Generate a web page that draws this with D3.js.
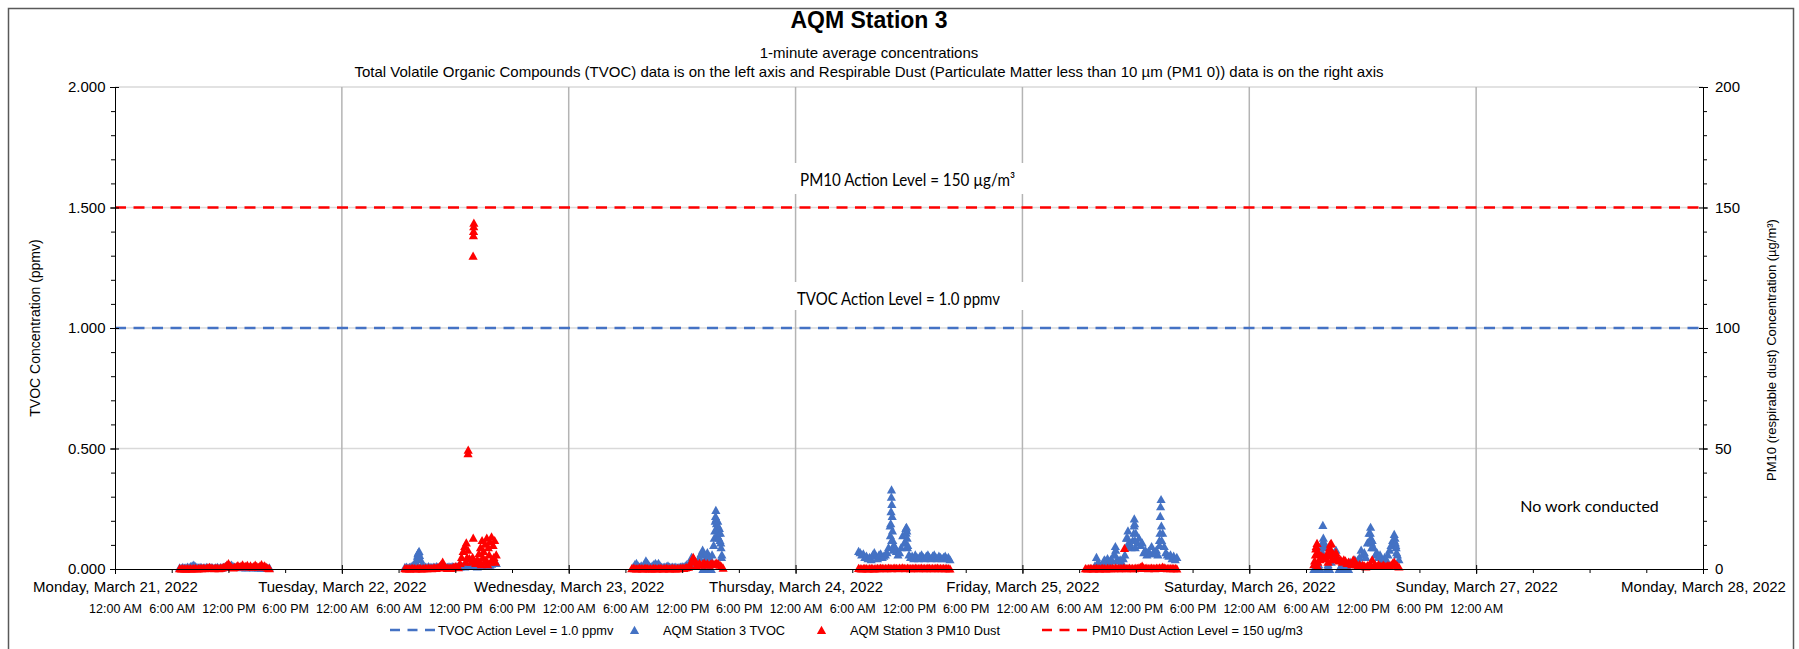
<!DOCTYPE html>
<html><head><meta charset="utf-8">
<script src="https://cdn.jsdelivr.net/npm/d3@7"></script>
<style>
body{margin:0;background:#fff;}
svg{display:block;}
</style></head><body>
<svg id="chart" width="1799" height="649"></svg>
<script>
// ---------------- DATA ----------------
const dayDates = ["2022-03-21","2022-03-22","2022-03-23","2022-03-24","2022-03-25","2022-03-26","2022-03-27","2022-03-28"];
const readingStepMin = 10;
const tvocActionLevel = 1.0;   // ppmv (left axis)
const pm10ActionLevel = 150;   // ug/m3 (right axis)
const leftTicks = [0, 0.5, 1.0, 1.5, 2.0];
const rightTicks = [0, 50, 100, 150, 200];

// TVOC (ppmv) readings, one every 10 minutes from the start time
const tvocStarts = ["2022-03-21 06:50","2022-03-22 06:40","2022-03-23 06:50","2022-03-24 06:40","2022-03-25 07:40","2022-03-26 06:50"];
const tvocMar21 = [0.006,0.004,0.008,0.005,0.006,0.010, 0.007,0.012,0.015,0.018,0.012,0.008, 0.006,0.009,0.007,0.005,0.006,0.008,
  0.006,0.005,0.007,0.006,0.004,0.006, 0.008,0.005,0.007,0.006,0.009,0.012, 0.010,0.008,0.014,0.018,0.012,0.010,
  0.008,0.011,0.009,0.007,0.010,0.008, 0.006,0.009,0.007,0.010,0.008,0.006, 0.009,0.007,0.006,0.008,0.005,0.007, 0.006,0.005,0.004,0.006];
const tvocMar22 = [0.008,0.010,0.006,0.009,0.012,0.015, 0.020,0.030,0.055,0.075,0.040,0.022, 0.012,0.010,0.008,0.012,0.009,0.007,
  0.010,0.008,0.012,0.010,0.008,0.011, 0.009,0.012,0.010,0.008,0.011,0.009, 0.012,0.010,0.008,0.011,0.013,0.010,
  0.012,0.015,0.010,0.014,0.012,0.016, 0.013,0.018,0.012,0.015,0.010,0.014, 0.016,0.012,0.018,0.014,0.020,0.016, 0.018,0.022,0.030,0.035,0.025];
const tvocMar23 = [0.010,0.020,0.025,0.015,0.010,0.015, 0.010,0.020,0.035,0.025,0.015,0.010, 0.015,0.020,0.025,0.020,0.025,0.015,
  0.010,0.008,0.010,0.012,0.015,0.010, 0.008,0.010,0.008,0.010,0.006,0.008, 0.010,0.012,0.010,0.015,0.020,0.015,
  0.030,0.050,0.040,0.020,0.025,0.035, 0.050,0.065,0.080,0.060,0.045,0.070, 0.055,0.040,0.060,0.100,0.200,0.170, 0.150,0.120,0.050];
const tvocMar24 = [0.075,0.070,0.060,0.065,0.050,0.055, 0.045,0.050,0.040,0.060,0.070,0.055, 0.045,0.060,0.065,0.050,0.055,0.060,
  0.070,0.090,0.180,0.120,0.080,0.095, 0.075,0.060,0.070,0.090,0.140,0.110, 0.170,0.090,0.060,0.050,0.055,0.045,
  0.060,0.050,0.045,0.055,0.060,0.050, 0.045,0.055,0.060,0.050,0.045,0.055, 0.060,0.050,0.045,0.055,0.050,0.045, 0.050,0.055,0.045,0.050,0.040];
const tvocMar25 = [0.015,0.050,0.030,0.020,0.015,0.025, 0.040,0.035,0.045,0.030,0.040,0.035, 0.060,0.095,0.040,0.035,0.040,0.030,
  0.045,0.060,0.130,0.160,0.110,0.090, 0.120,0.210,0.150,0.110,0.130,0.100, 0.110,0.070,0.080,0.060,0.075,0.065,
  0.095,0.070,0.065,0.080,0.060,0.120, 0.290,0.150,0.095,0.070,0.060,0.055, 0.060,0.045,0.055,0.040,0.050];
const tvocMar26 = [0.000,0.010,0.000,0.020,0.000,0.090, 0.130,0.100,0.000,0.020,0.000,0.030, 0.040,0.070,0.080,0.050,0.000,0.010,
  0.000,0.020,0.000,0.010,0.000,0.030, 0.020,0.030,0.040,0.030,0.040,0.050, 0.080,0.060,0.070,0.050,0.110,0.150,
  0.175,0.120,0.090,0.060,0.070,0.050, 0.060,0.040,0.030,0.050,0.040,0.060, 0.080,0.100,0.120,0.145,0.100,0.060, 0.040];
// additional individual 1-minute TVOC readings (spikes / stacked columns)
const tvocExtra = [
  ["2022-03-22 07:58",0.045],["2022-03-22 08:03",0.065],["2022-03-22 08:06",0.07],["2022-03-22 08:13",0.058],["2022-03-22 16:05",0.03],
  ["2022-03-23 14:12",0],["2022-03-23 14:22",0],["2022-03-23 14:48",0],["2022-03-23 15:05",0],
  ["2022-03-23 15:24",0.13],["2022-03-23 15:27",0.16],["2022-03-23 15:32",0.22],["2022-03-23 15:34",0.245],["2022-03-23 15:36",0.21],
  ["2022-03-23 15:38",0.19],["2022-03-23 15:43",0.14],["2022-03-23 15:46",0.2],["2022-03-23 15:48",0.18],["2022-03-23 15:53",0.13],
  ["2022-03-23 15:56",0.17],["2022-03-23 16:03",0.15],["2022-03-23 16:05",0.11],["2022-03-23 16:07",0.09],["2022-03-23 16:12",0.06],
  ["2022-03-24 10:02",0.14],["2022-03-24 10:04",0.19],["2022-03-24 10:06",0.24],["2022-03-24 10:08",0.30],["2022-03-24 10:09",0.33],
  ["2022-03-24 10:11",0.27],["2022-03-24 10:13",0.22],["2022-03-24 10:15",0.16],["2022-03-24 10:17",0.12],["2022-03-24 10:22",0.10],
  ["2022-03-24 11:38",0.11],["2022-03-24 11:42",0.15],["2022-03-24 11:44",0.175],["2022-03-24 11:46",0.16],["2022-03-24 11:48",0.13],["2022-03-24 11:52",0.10],
  ["2022-03-25 09:48",0.06],["2022-03-25 09:52",0.08],["2022-03-25 11:05",0.10],["2022-03-25 11:08",0.13],
  ["2022-03-25 11:47",0.15],["2022-03-25 11:49",0.18],["2022-03-25 11:52",0.19],["2022-03-25 11:54",0.12],["2022-03-25 11:56",0.09],
  ["2022-03-25 14:30",0.10],["2022-03-25 14:33",0.15],["2022-03-25 14:35",0.22],["2022-03-25 14:37",0.26],["2022-03-25 14:42",0.18],["2022-03-25 14:44",0.12],
  ["2022-03-26 07:44",0.07],["2022-03-26 07:45",0.11],["2022-03-26 07:47",0.183],["2022-03-26 07:52",0.115],["2022-03-26 07:55",0.09],
  ["2022-03-26 12:48",0.15],["2022-03-26 12:52",0.13],["2022-03-26 12:55",0.11],["2022-03-26 12:57",0.09],
  ["2022-03-26 15:20",0.12],["2022-03-26 15:25",0.13],["2022-03-26 15:27",0.11],["2022-03-26 15:32",0.09],["2022-03-26 15:35",0.07]
];

// PM10 dust (ug/m3) readings, one every 10 minutes from the start time
const pm10Starts = ["2022-03-21 06:50","2022-03-22 06:40","2022-03-23 06:40","2022-03-24 06:40","2022-03-25 06:40","2022-03-26 06:50"];
const pm10Mar21 = [0.3,0.2,0.3,0.2,0.2,0.3, 0.2,0.3,0.2,0.3,0.4,0.2, 0.3,0.4,0.3,0.5,0.3,0.4, 0.6,0.9,0.5,0.4,0.3,0.5,
  0.4,0.3,0.5,0.6,0.9,1.2, 1.8,2.4,1.6,0.9,0.6,0.8, 1.2,1.6,1.0,1.4,1.9,1.1, 1.3,1.7,1.0,1.5,0.9,1.2, 1.8,1.3,0.9,1.4,2.0,1.2, 1.5,0.9,0.5,0.3];
const pm10Mar22 = [0.3,0.2,0.3,0.2,0.3,0.4, 0.3,0.2,0.3,0.4,0.3,0.2, 0.3,0.4,0.3,0.5,0.4,0.3, 0.5,0.6,0.4,0.7,1.2,2.0,
  3.0,1.4,0.6,0.4,0.5,0.4, 0.6,0.8,1.2,1.0,0.7,2.5, 5.0,7.5,9.5,11.0,8.0,4.5, 3.0,5.0,3.5,2.5,4.0,6.5, 9.0,12.0,7.5,10.5,13.0,9.0, 11.5,13.5,10.0,12.0,6.0];
const pm10Mar23 = [0.3,0.4,0.3,0.2,0.3,0.4, 0.3,0.2,0.3,0.4,0.3,0.2, 0.3,0.2,0.4,0.3,0.2,0.3, 0.4,0.3,0.2,0.3,0.4,0.3,
  0.2,0.3,0.4,0.3,0.2,0.3, 0.3,0.4,0.5,0.4,0.6,0.8, 0.9,1.5,3.0,5.0,3.2,1.5, 2.0,2.5,1.8,2.2,2.6,2.0, 2.4,1.8,2.2,2.5,2.0,2.4, 2.6,2.2,1.8,1.2,0.5];
const pm10Mar24 = [0.4,0.3,0.2,0.3,0.4,0.3, 0.2,0.3,0.4,0.3,0.2,0.3, 0.4,0.3,0.5,0.4,0.3,0.4, 0.3,0.5,0.4,0.3,0.4,0.5,
  0.4,0.3,0.5,0.4,0.6,0.4, 0.3,0.5,0.4,0.3,0.4,0.3, 0.5,0.4,0.3,0.4,0.5,0.3, 0.4,0.3,0.5,0.4,0.3,0.4, 0.3,0.4,0.5,0.3,0.4,0.3, 0.4,0.3,0.4,0.3,0.2];
const pm10Mar25 = [0.3,0.2,0.3,0.4,0.3,0.2, 0.3,0.4,0.3,0.2,0.3,0.4, 0.3,0.2,0.4,0.3,0.3,0.4, 0.3,0.5,0.4,0.3,0.4,0.3,
  0.5,0.4,0.3,0.4,0.5,0.3, 0.4,0.3,0.5,0.4,0.6,0.8, 1.4,0.6,0.4,0.5,0.3,0.4, 0.5,0.4,0.3,0.5,0.4,0.6, 0.5,1.0,0.6,0.4,0.3,0.4, 0.3,0.4,0.3,0.4,0.2];
const pm10Mar26 = [2.0,6.0,10.8,7.0,4.0,5.5, 5.0,4.5,6.0,3.0,9.0,10.8, 6.5,4.0,7.0,5.0,3.5,4.0, 3.0,4.0,3.5,2.5,3.0,2.5,
  2.0,4.0,3.5,2.0,1.5,2.0, 1.2,1.8,1.5,1.0,1.6,1.2, 2.0,4.0,1.5,1.8,1.2,2.0, 1.5,1.2,1.8,1.4,1.2,1.6, 1.4,1.8,2.5,3.0,2.0,1.5, 1.0];
// additional individual 1-minute PM10 readings (excursions / fills)
const pm10Extra = [
  ["2022-03-22 13:21",48],["2022-03-22 13:22",49.5],["2022-03-22 13:53",130],["2022-03-22 13:55",138.5],["2022-03-22 13:56",140.3],
  ["2022-03-22 13:57",142.2],["2022-03-22 13:58",143.7],["2022-03-22 13:54",13],
  ["2022-03-22 13:05",3],["2022-03-22 13:15",5],["2022-03-22 14:35",3],["2022-03-22 14:45",2],["2022-03-22 14:55",5],["2022-03-22 15:05",3],
  ["2022-03-22 15:15",4],["2022-03-22 15:25",2],["2022-03-22 15:35",6],["2022-03-22 15:45",3],["2022-03-22 15:55",4],["2022-03-22 16:05",5],["2022-03-22 16:15",3],
  ["2022-03-23 13:05",4],["2022-03-23 13:15",4.2],
  ["2022-03-25 10:48",8.7],
  ["2022-03-26 06:55",3.5],["2022-03-26 07:02",8.5],["2022-03-26 07:05",9.5],["2022-03-26 07:08",6.5],["2022-03-26 07:12",1.5],["2022-03-26 07:15",3],
  ["2022-03-26 08:25",5.5],["2022-03-26 08:32",8],["2022-03-26 08:35",10.5],["2022-03-26 08:38",7],["2022-03-26 08:45",4]
];

// ---------------- CHART ----------------
const W = 1799, H = 649;
const M = {left:115, right:1703, top:87, bottom:569};
const parse = d3.timeParse("%Y-%m-%d %H:%M");
const parseDay = d3.timeParse("%Y-%m-%d");
const days = dayDates.map(parseDay);

const x = d3.scaleTime().domain([days[0], days[days.length-1]]).range([M.left, M.right]);
const yL = d3.scaleLinear().domain([0, 2]).range([M.bottom, M.top]);
const yR = d3.scaleLinear().domain([0, 200]).range([M.bottom, M.top]);

function toPoints(starts, arrays, extra){
  const pts = arrays.flatMap((arr, d) => arr.map((v, i) => ({t: d3.timeMinute.offset(parse(starts[d]), i*readingStepMin), v})));
  return pts.concat(extra.map(([s, v]) => ({t: parse(s), v})));
}
const tvocPts = toPoints(tvocStarts, [tvocMar21,tvocMar22,tvocMar23,tvocMar24,tvocMar25,tvocMar26], tvocExtra);
const pm10Pts = toPoints(pm10Starts, [pm10Mar21,pm10Mar22,pm10Mar23,pm10Mar24,pm10Mar25,pm10Mar26], pm10Extra);

const BLUE = "#4472C4", RED = "#FF0000";
const FONT = "'Liberation Sans', Arial, sans-serif";
const CAL = "Lato, 'Open Sans', sans-serif";
const tri = "M0,-4.2L4.6,4L-4.6,4Z";

const svg = d3.select("#chart");
svg.append("rect").attr("width", W).attr("height", H).attr("fill", "#fff");
svg.append("rect").attr("x", 8.5).attr("y", 8.5).attr("width", 1785).attr("height", 700)
   .attr("fill", "none").attr("stroke", "#595959").attr("stroke-width", 1.5);

// horizontal gridlines
svg.append("g").selectAll("line").data(leftTicks.filter(d => d > 0)).join("line")
  .attr("x1", M.left).attr("x2", M.right).attr("y1", d => yL(d)).attr("y2", d => yL(d))
  .attr("stroke", "#d9d9d9").attr("stroke-width", 1.5);
// vertical day gridlines
svg.append("g").selectAll("line").data(days.slice(1, -1)).join("line")
  .attr("x1", d => x(d)).attr("x2", d => x(d)).attr("y1", M.top).attr("y2", M.bottom)
  .attr("stroke", "#b4b4b4").attr("stroke-width", 1.5);

// action levels
const span = [days[0], days[days.length-1]];
svg.append("path").datum(span).attr("fill", "none").attr("stroke", BLUE).attr("stroke-width", 2.6)
  .attr("stroke-dasharray", "11,7.5")
  .attr("d", d3.line().x(d => x(d)).y(() => yL(tvocActionLevel)));
svg.append("path").datum(span).attr("fill", "none").attr("stroke", RED).attr("stroke-width", 2.6)
  .attr("stroke-dasharray", "11,7.5")
  .attr("d", d3.line().x(d => x(d)).y(() => yR(pm10ActionLevel)));

// action level labels in white boxes
svg.append("rect").attr("x", 788).attr("y", 163).attr("width", 242).attr("height", 31).attr("fill", "#fff");
svg.append("rect").attr("x", 788).attr("y", 282).attr("width", 242).attr("height", 28).attr("fill", "#fff");
svg.append("text").attr("x", 800).attr("y", 185.5).attr("font-family", CAL).attr("font-size", 16.5)
  .attr("textLength", 215).attr("lengthAdjust", "spacingAndGlyphs")
  .text("PM10 Action Level = 150 µg/m³");
svg.append("text").attr("x", 797).attr("y", 304.5).attr("font-family", CAL).attr("font-size", 16.5)
  .attr("textLength", 203).attr("lengthAdjust", "spacingAndGlyphs")
  .text("TVOC Action Level = 1.0 ppmv");
svg.append("text").attr("x", (x(days[6]) + x(days[7]))/2).attr("y", 512).attr("text-anchor", "middle")
  .attr("font-family", CAL).attr("font-size", 16).text("No work conducted");

// markers
svg.append("g").selectAll("path").data(tvocPts).join("path")
  .attr("d", tri).attr("fill", BLUE)
  .attr("transform", d => `translate(${x(d.t)},${yL(d.v)})`);
svg.append("g").selectAll("path").data(pm10Pts).join("path")
  .attr("d", tri).attr("fill", RED)
  .attr("transform", d => `translate(${x(d.t)},${yR(d.v)})`);

// axes
function styleAxis(g, size){
  g.attr("font-family", FONT).attr("font-size", size);
  g.selectAll("line").attr("stroke", "#000");
  g.selectAll("path.domain").attr("stroke", "#000");
  g.selectAll("text").attr("fill", "#000");
}
const minorL = d3.range(0, 21).map(i => i/10);
svg.append("g").attr("transform", `translate(${M.left},0)`)
  .call(d3.axisLeft(yL).tickValues(minorL).tickSize(4).tickFormat(""))
  .call(g => g.select(".domain").remove()).call(styleAxis, 15);
svg.append("g").attr("transform", `translate(${M.left},0)`)
  .call(d3.axisRight(yL).tickValues(leftTicks).tickSize(4).tickFormat(""))
  .call(g => g.select(".domain").remove()).call(styleAxis, 15);
svg.append("g").attr("transform", `translate(${M.left},0)`)
  .call(d3.axisLeft(yL).tickValues(leftTicks).tickSizeInner(5).tickSizeOuter(0).tickPadding(4.5).tickFormat(d3.format(".3f")))
  .call(styleAxis, 15);

const minorR = d3.range(0, 21).map(i => i*10);
svg.append("g").attr("transform", `translate(${M.right},0)`)
  .call(d3.axisRight(yR).tickValues(minorR).tickSize(4).tickFormat(""))
  .call(g => g.select(".domain").remove()).call(styleAxis, 15);
svg.append("g").attr("transform", `translate(${M.right},0)`)
  .call(d3.axisLeft(yR).tickValues(rightTicks).tickSize(4).tickFormat(""))
  .call(g => g.select(".domain").remove()).call(styleAxis, 15);
svg.append("g").attr("transform", `translate(${M.right},0)`)
  .call(d3.axisRight(yR).tickValues(rightTicks).tickSizeInner(5).tickSizeOuter(0).tickPadding(7).tickFormat(d3.format("d")))
  .call(styleAxis, 15);

// x axis
const sixHours = d3.timeHour.every(6).range(days[0], days[days.length-1]);
svg.append("g").attr("transform", `translate(0,${M.bottom})`)
  .call(d3.axisBottom(x).tickValues(sixHours).tickSize(4).tickFormat(""))
  .call(g => g.select(".domain").remove()).call(styleAxis, 15);
svg.append("g").attr("transform", `translate(0,${M.bottom})`)
  .call(d3.axisTop(x).tickValues(days).tickSize(4).tickFormat(""))
  .call(g => g.select(".domain").remove()).call(styleAxis, 15);
svg.append("g").attr("transform", `translate(0,${M.bottom})`)
  .call(d3.axisBottom(x).tickValues(days).tickSizeInner(5).tickSizeOuter(0).tickPadding(7.4).tickFormat(d3.timeFormat("%A, %B %-d, %Y")))
  .call(styleAxis, 15);
// hour-of-day labels (Mon 12:00 AM .. Sun 12:00 AM)
const hourLabelTimes = d3.timeHour.every(6).range(days[0], d3.timeMinute.offset(days[6], 1));
svg.append("g").attr("transform", `translate(0,${M.bottom})`)
  .call(d3.axisBottom(x).tickValues(hourLabelTimes).tickSize(0).tickPadding(35.6).tickFormat(d3.timeFormat("%-I:%M %p")))
  .call(g => g.select(".domain").remove()).call(g => g.selectAll("line").remove()).call(styleAxis, 12.5);

// titles
const cx = 869;
svg.append("text").attr("x", cx).attr("y", 27.5).attr("text-anchor", "middle").attr("font-family", FONT)
  .attr("font-size", 23).attr("font-weight", "bold").text("AQM Station 3");
svg.append("text").attr("x", cx).attr("y", 58).attr("text-anchor", "middle").attr("font-family", FONT)
  .attr("font-size", 15).text("1-minute average concentrations");
svg.append("text").attr("x", cx).attr("y", 76.5).attr("text-anchor", "middle").attr("font-family", FONT)
  .attr("font-size", 15).text("Total Volatile Organic Compounds (TVOC) data is on the left axis and Respirable Dust (Particulate Matter less than 10 µm (PM1 0)) data is on the right axis");

// axis titles
svg.append("text").attr("transform", `translate(40,${(M.top+M.bottom)/2}) rotate(-90)`).attr("text-anchor", "middle")
  .attr("font-family", FONT).attr("font-size", 14).text("TVOC Concentration (ppmv)");
svg.append("text").attr("transform", `translate(1776,350) rotate(-90)`).attr("text-anchor", "middle")
  .attr("font-family", FONT).attr("font-size", 13).text("PM10 (respirable dust) Concentration (µg/m³)");

// legend
const ly = 630;
const lg = svg.append("g").attr("font-family", FONT).attr("font-size", 12.8);
lg.append("line").attr("x1", 390).attr("x2", 435).attr("y1", ly).attr("y2", ly).attr("stroke", BLUE)
  .attr("stroke-width", 2.6).attr("stroke-dasharray", "10,7.5");
lg.append("text").attr("x", 438).attr("y", ly + 4.6).text("TVOC Action Level = 1.0 ppmv");
lg.append("path").attr("d", tri).attr("fill", BLUE).attr("transform", `translate(634.5,${ly})`);
lg.append("text").attr("x", 663).attr("y", ly + 4.6).text("AQM Station 3 TVOC");
lg.append("path").attr("d", tri).attr("fill", RED).attr("transform", `translate(821.5,${ly})`);
lg.append("text").attr("x", 850).attr("y", ly + 4.6).text("AQM Station 3 PM10 Dust");
lg.append("line").attr("x1", 1042).attr("x2", 1089).attr("y1", ly).attr("y2", ly).attr("stroke", RED)
  .attr("stroke-width", 2.6).attr("stroke-dasharray", "10,7.5");
lg.append("text").attr("x", 1092).attr("y", ly + 4.6).text("PM10 Dust Action Level = 150 ug/m3");
</script></body></html>
